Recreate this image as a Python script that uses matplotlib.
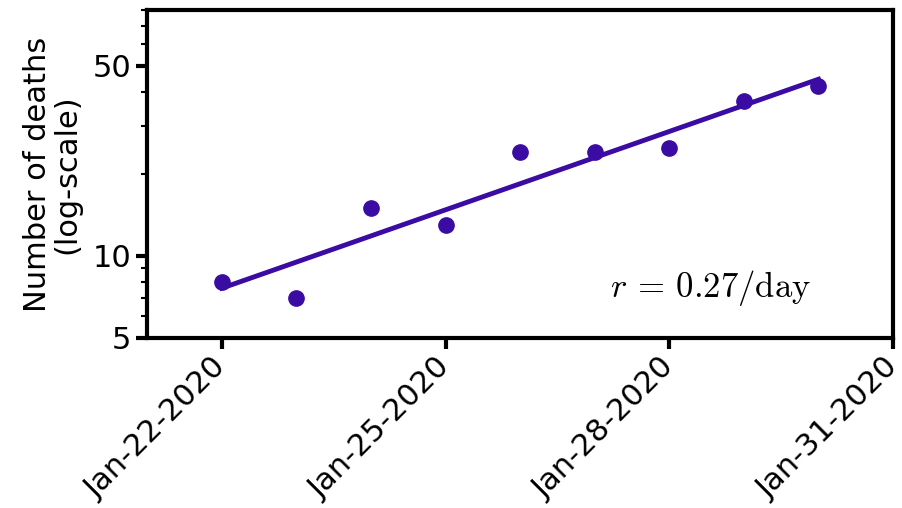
import numpy as np
import matplotlib
matplotlib.use("Agg")
import matplotlib.pyplot as plt
import matplotlib.dates as mdates
import datetime as dt

dates = ["2020-01-22", "2020-01-23", "2020-01-24", "2020-01-25", "2020-01-26",
         "2020-01-27", "2020-01-28", "2020-01-29", "2020-01-30"]
deaths = [8, 7, 15, 13, 24, 24, 25, 37, 42]
yticks = [5, 10, 50]
xtick_dates = ["2020-01-22", "2020-01-25", "2020-01-28", "2020-01-31"]
rate_label = r"$r$ = 0.27/day"
color = "#3a0ca3"

plt.rcParams["mathtext.fontset"] = "cm"
plt.rcParams["axes.formatter.use_mathtext"] = False

x = np.array([dt.datetime.strptime(d, "%Y-%m-%d") for d in dates])
xn = mdates.date2num(x)
y = np.array(deaths, dtype=float)
coef = np.polyfit(xn - xn[0], np.log(y), 1)
fit = np.exp(np.polyval(coef, xn - xn[0]))

fig = plt.figure(figsize=(9.03, 5.08), dpi=100)
ax = fig.add_axes([0.163, 0.335, 0.826, 0.645])
ax.plot(x, y, "o", color=color, markersize=11)
ax.plot(x, fit, "-", color=color, linewidth=3.5)
ax.set_yscale("log")
ax.set_ylim(5, 80)
ax.set_yticks(yticks)
ax.set_yticklabels([str(v) for v in yticks])
ax.set_xlim(mdates.date2num(dt.datetime(2020, 1, 21)), mdates.date2num(dt.datetime(2020, 1, 31)))
xt = [dt.datetime.strptime(d, "%Y-%m-%d") for d in xtick_dates]
ax.set_xticks(xt)
ax.set_xticklabels([d.strftime("%b-%d-%Y") for d in xt], rotation=45, ha="right",
                   va="center", rotation_mode="anchor")
ax.tick_params(axis="both", which="major", labelsize=22, width=3, length=8)
ax.tick_params(axis="x", which="major", labelsize=22, pad=10)
ax.tick_params(axis="y", which="minor", width=1.5, length=4)
ax.tick_params(axis="y", which="minor", labelleft=False)
for s in ax.spines.values():
    s.set_linewidth(3)
ax.set_ylabel("Number of deaths\n(log-scale)", fontsize=22, linespacing=1.0, labelpad=8)
ax.text(0.62, 0.125, rate_label, transform=ax.transAxes, fontsize=25,
        family=["cmr10", "DejaVu Serif"])
fig.savefig("out.png", dpi=100)
